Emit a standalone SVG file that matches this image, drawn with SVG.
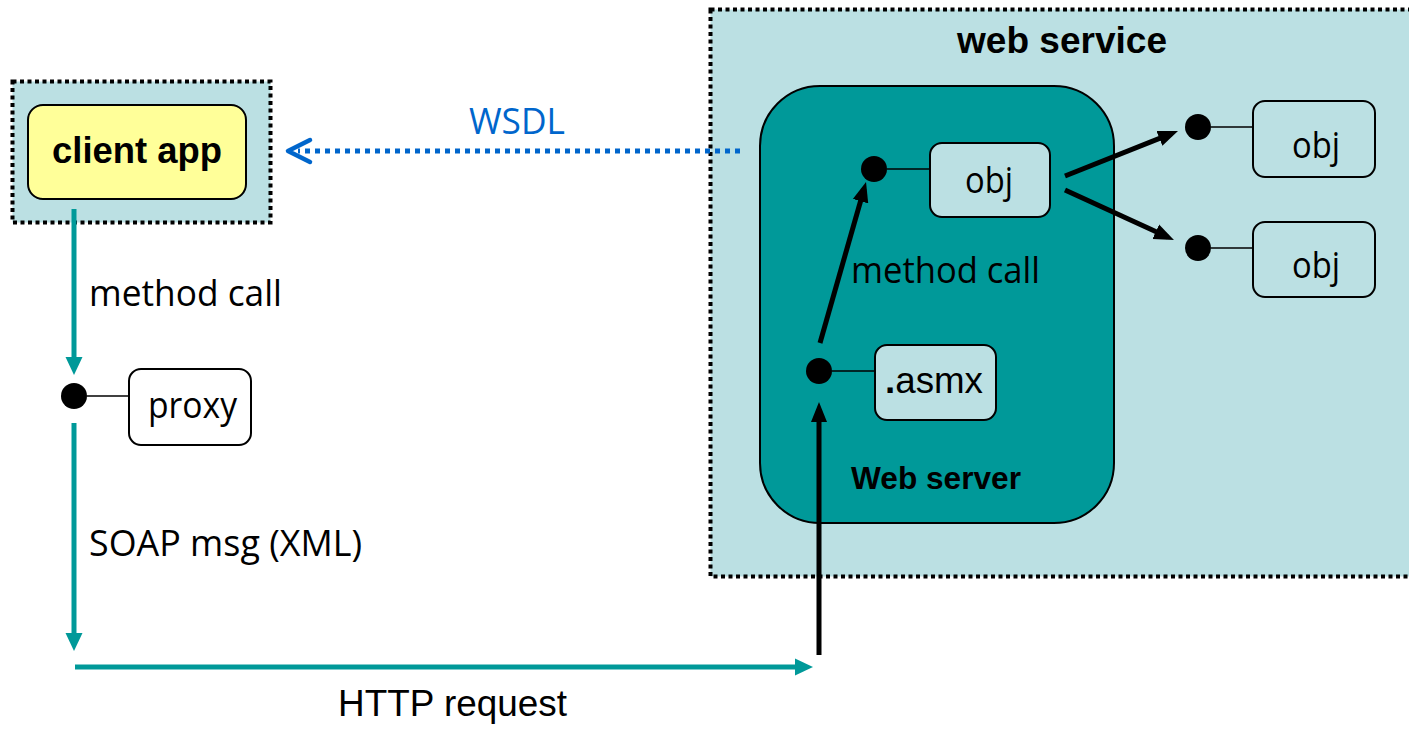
<svg xmlns="http://www.w3.org/2000/svg" width="1409" height="729" viewBox="0 0 1409 729">
  <style>
    .container { fill: #BBE0E3; stroke: #000; stroke-width: 4; stroke-dasharray: 4 3.5; }
    .box { stroke: #000; stroke-width: 2; }
    .obj { fill: #BBE0E3; }
    .plain { fill: #FFFFFF; }
    .dot { fill: #000; }
    .link { stroke: #000; stroke-width: 1.6; fill: none; }
    .call { stroke: #000; stroke-width: 5; fill: none; marker-end: url(#headBlack); }
    .flow { stroke: #009999; stroke-width: 5; fill: none; marker-end: url(#headTeal); }
    .sans { font-family: "Open Sans", "Noto Sans", "DejaVu Sans", sans-serif; font-size: 37px; fill: #000; }
    .arial { font-family: "Liberation Sans", Arial, sans-serif; fill: #000; }
    .bold { font-weight: bold; }
  </style>
  <defs>
    <marker id="headBlack" markerUnits="userSpaceOnUse" markerWidth="20" markerHeight="18" viewBox="0 0 20 18" refX="13" refY="9" orient="auto">
      <path d="M0,1 L20,9 L0,17 z" fill="#000"/>
    </marker>
    <marker id="headTeal" markerUnits="userSpaceOnUse" markerWidth="18" markerHeight="18" viewBox="0 0 18 18" refX="11" refY="9" orient="auto">
      <path d="M0,0.5 L18,9 L0,17.5 z" fill="#009999"/>
    </marker>
  </defs>

  <rect width="1409" height="729" fill="#FFFFFF"/>

  <!-- web service container -->
  <g id="web-service">
    <rect class="container" x="710.5" y="9.5" width="710" height="567"/>
    <text class="arial bold" x="957" y="53" font-size="37" textLength="210" lengthAdjust="spacingAndGlyphs">web service</text>
  </g>

  <!-- web server -->
  <g id="web-server">
    <rect x="760" y="86" width="354" height="437" rx="60" ry="60" fill="#009999" stroke="#000" stroke-width="2"/>
    <text class="arial bold" x="851" y="489" font-size="31.5" textLength="170" lengthAdjust="spacingAndGlyphs">Web server</text>
  </g>

  <!-- client side container -->
  <g id="client">
    <rect class="container" x="12.5" y="81.5" width="258" height="141"/>
  </g>
  <g id="client-app">
    <rect class="box" x="28" y="105" width="218" height="94" rx="15" ry="15" fill="#FFFF99"/>
    <text class="arial bold" x="52" y="163" font-size="36" textLength="170" lengthAdjust="spacingAndGlyphs">client app</text>
  </g>

  <!-- proxy -->
  <g id="proxy">
    <circle class="dot" cx="74" cy="396" r="13"/>
    <line class="link" x1="87" y1="396" x2="129" y2="396"/>
    <rect class="box plain" x="129" y="369" width="122" height="76" rx="12" ry="12"/>
    <text class="sans" x="148" y="418" textLength="89" lengthAdjust="spacingAndGlyphs">proxy</text>
  </g>

  <!-- .asmx endpoint -->
  <g id="asmx">
    <circle class="dot" cx="819" cy="371" r="13"/>
    <line class="link" x1="832" y1="371" x2="875" y2="371"/>
    <rect class="box obj" x="875" y="345" width="121" height="75" rx="12" ry="12"/>
    <text class="arial" x="885" y="393" font-size="37" textLength="98" lengthAdjust="spacingAndGlyphs"><tspan font-weight="bold">.</tspan>asmx</text>
  </g>

  <!-- object inside the web server -->
  <g id="obj-main">
    <circle class="dot" cx="874" cy="169" r="13"/>
    <line class="link" x1="887" y1="169" x2="930" y2="169"/>
    <rect class="box obj" x="930" y="143" width="120" height="74" rx="12" ry="12"/>
    <text class="sans" x="965" y="193" font-size="35" textLength="48" lengthAdjust="spacingAndGlyphs">obj</text>
  </g>

  <!-- further objects -->
  <g id="obj-upper">
    <circle class="dot" cx="1198" cy="127" r="13"/>
    <line class="link" x1="1211" y1="127" x2="1253" y2="127"/>
    <rect class="box obj" x="1253" y="101" width="122" height="76" rx="12" ry="12"/>
    <text class="sans" x="1292" y="158" font-size="35" textLength="48" lengthAdjust="spacingAndGlyphs">obj</text>
  </g>
  <g id="obj-lower">
    <circle class="dot" cx="1198" cy="248" r="13"/>
    <line class="link" x1="1211" y1="248" x2="1253" y2="248"/>
    <rect class="box obj" x="1253" y="222" width="122" height="75" rx="12" ry="12"/>
    <text class="sans" x="1292" y="278" font-size="35" textLength="48" lengthAdjust="spacingAndGlyphs">obj</text>
  </g>

  <!-- connectors -->
  <g id="connectors">
    <!-- WSDL retrieval -->
    <line x1="740" y1="151" x2="298" y2="151" stroke="#0066CC" stroke-width="5" stroke-dasharray="5 5"/>
    <polyline points="310,140 288,151 310,162" fill="none" stroke="#0066CC" stroke-width="4.5" stroke-linecap="round" stroke-linejoin="round"/>
    <text class="sans" x="469" y="134" font-size="36" style="fill:#0066CC" textLength="96" lengthAdjust="spacingAndGlyphs">WSDL</text>

    <!-- client calls proxy -->
    <line class="flow" x1="74" y1="209" x2="74" y2="368"/>
    <text class="sans" x="89" y="306" textLength="193" lengthAdjust="spacingAndGlyphs">method call</text>

    <!-- proxy emits SOAP message -->
    <line class="flow" x1="74" y1="423" x2="74" y2="644"/>
    <text class="sans" x="89" y="556" font-size="38" textLength="273" lengthAdjust="spacingAndGlyphs">SOAP msg (XML)</text>

    <!-- HTTP transport -->
    <line class="flow" x1="75" y1="667" x2="806" y2="667"/>
    <text class="arial" x="338" y="716" font-size="37" textLength="229" lengthAdjust="spacingAndGlyphs">HTTP request</text>

    <!-- request arrives at .asmx -->
    <line class="call" x1="819" y1="655" x2="819" y2="409"/>

    <!-- .asmx invokes obj -->
    <line class="call" x1="820" y1="343" x2="864.1" y2="188.7"/>
    <text class="sans" x="851" y="283" textLength="189" lengthAdjust="spacingAndGlyphs">method call</text>

    <!-- obj calls other objects -->
    <line class="call" x1="1065" y1="176" x2="1171.5" y2="133.6"/>
    <line class="call" x1="1065" y1="190" x2="1167.6" y2="237.1"/>
  </g>
</svg>
